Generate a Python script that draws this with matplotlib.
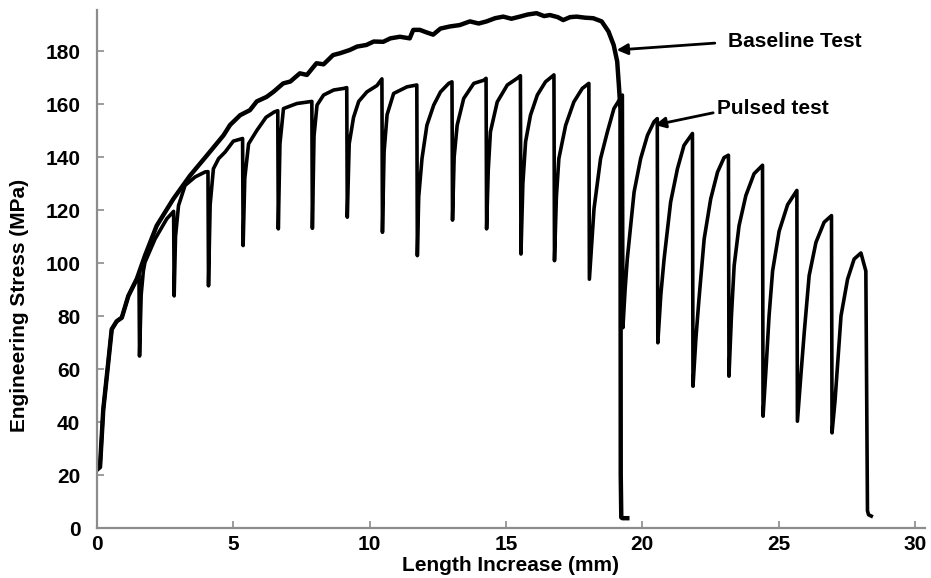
import matplotlib
matplotlib.use("Agg")
import matplotlib.pyplot as plt

# stress-strain readings taken off the original figure (mm, MPa)
baseline_x = [0.0, 0.11, 0.23, 0.36, 0.54, 0.72, 0.91, 1.15, 1.46, 1.76, 2.19, 2.8, 3.42,
              4.03, 4.64, 4.88, 5.25, 5.61, 5.86, 6.22, 6.47, 6.83, 7.09, 7.44, 7.7, 8.05,
              8.31, 8.66, 8.92, 9.27, 9.54, 9.88, 10.15, 10.5, 10.76, 11.11, 11.47, 11.6,
              11.84, 12.1, 12.33, 12.6, 12.95, 13.3, 13.68, 14.0, 14.29, 14.6, 14.9, 15.2,
              15.51, 15.8, 16.12, 16.4, 16.61, 16.9, 17.1, 17.35, 17.59, 17.9, 18.2, 18.51,
              18.76, 18.95, 19.08, 19.14, 19.2, 19.21, 19.23, 19.27, 19.45]
baseline_y = [22, 23, 44.7, 57.3, 75, 78, 79.4, 87.6, 94, 102.8, 114.1, 124.2, 133.1,
              140.6, 148.2, 152.1, 155.8, 157.7, 161, 162.7, 164.6, 167.8, 168.5, 171.6, 171, 175.4,
              175, 178.5, 179.2, 180.4, 181.7, 182.3, 183.6, 183.5, 184.8, 185.4, 184.8, 188,
              188, 187, 186.2, 188.5, 189.3, 189.8, 191.2, 190.4, 191.2, 192.4, 193, 192.2,
              193, 193.8, 194.3, 193.2, 193.6, 192.8, 191.7, 192.8, 193, 192.6, 192.4, 191.2,
              187.4, 182.3, 176.1, 167.3, 158, 20, 4, 3.7, 3.7]

pulsed_x = [0.0, 0.11, 0.23, 0.36, 0.54, 0.72, 0.91, 1.15, 1.46, 1.54,
            1.56, 1.62, 1.7, 1.76, 2.13, 2.56, 2.81,
            2.83, 2.88, 2.99, 3.23, 3.6, 3.97, 4.07,
            4.09, 4.15, 4.27, 4.46, 4.7, 5.0, 5.34,
            5.36, 5.42, 5.56, 5.86, 6.2, 6.5, 6.63,
            6.65, 6.71, 6.84, 7.33, 7.88,
            7.9, 7.96, 8.07, 8.31, 8.68, 9.05, 9.16,
            9.18, 9.25, 9.41, 9.6, 9.9, 10.27, 10.45,
            10.47, 10.53, 10.64, 10.88, 11.37, 11.73,
            11.75, 11.8, 11.92, 12.1, 12.35, 12.6, 12.9, 13.02,
            13.04, 13.1, 13.21, 13.45, 13.82, 14.19, 14.27,
            14.29, 14.35, 14.43, 14.68, 15.05, 15.41, 15.53,
            15.55, 15.62, 15.72, 15.9, 16.15, 16.45, 16.76,
            16.78, 16.85, 16.94, 17.19, 17.49, 17.8, 18.04,
            18.06, 18.13, 18.23, 18.47, 18.72, 18.96, 19.27,
            19.29, 19.37, 19.45, 19.7, 19.94, 20.19, 20.43, 20.55,
            20.57, 20.68, 20.8, 21.04, 21.29, 21.53, 21.84,
            21.86, 21.97, 22.08, 22.27, 22.51, 22.76, 23.0, 23.16,
            23.18, 23.27, 23.37, 23.55, 23.8, 24.1, 24.41,
            24.43, 24.55, 24.65, 24.78, 25.02, 25.33, 25.67,
            25.69, 25.82, 25.94, 26.12, 26.37, 26.67, 26.94,
            26.96, 27.07, 27.16, 27.29, 27.53, 27.77, 28.02, 28.2,
            28.26, 28.3, 28.4]
pulsed_y = [22, 23, 44.7, 57.3, 75, 78, 79.4, 87.6, 94, 95.5,
            64.9, 88, 97, 100.3, 109.1, 116.7, 119.5,
            87.6, 110, 121.7, 129.3, 132.5, 134.4, 134.5,
            91.4, 122, 135.6, 139.4, 141.9, 146, 147,
            106.6, 132, 145, 150, 155, 157, 157.5,
            112.9, 145, 158.3, 160.2, 161,
            113.1, 148, 159.6, 163.4, 165.3, 165.9, 166.2,
            117.3, 145, 155, 161, 164.6, 167, 169.5,
            111.6, 142, 156, 164, 166.5, 167.2,
            102.8, 125, 139.4, 152, 159.6, 164.6, 167.8, 168.4,
            116.2, 140, 152, 162.1, 167.8, 169, 169.7,
            112.9, 135, 149.5, 160.8, 167.2, 169.7, 170.7,
            103.4, 130, 145.8, 155.8, 163.4, 168.4, 171,
            100.9, 125, 139.4, 152, 160.8, 165.9, 167.8,
            93.9, 105, 120.5, 139.4, 149.5, 158.3, 163.4,
            75.6, 90, 101.5, 126.8, 139.4, 148.2, 153.3, 154.5,
            69.9, 88, 101.5, 123, 135.6, 144.4, 148.9,
            53.5, 72, 86.4, 109.1, 124.2, 134.3, 139.8, 140.7,
            57.3, 80, 99, 114.1, 125.5, 133.7, 136.9,
            42.2, 62, 80, 97, 112, 122, 127.4,
            40.3, 58, 73.7, 95.2, 107.8, 115.4, 117.9,
            35.9, 48, 61.2, 80.1, 93.9, 101.5, 103.8, 97,
            6.5, 5, 4.5]

x_ticks = [0, 5, 10, 15, 20, 25, 30]
y_ticks = [0, 20, 40, 60, 80, 100, 120, 140, 160, 180]

plt.rcParams['font.family'] = ['Liberation Sans', 'DejaVu Sans']
plt.rcParams['font.weight'] = 'bold'

fig = plt.figure(figsize=(9.31, 5.78), dpi=100)
ax = fig.add_axes([97 / 931, 50 / 578, 828 / 931, 518 / 578])

ax.plot(baseline_x, baseline_y, color='black', lw=3.2, solid_joinstyle='round')
ax.plot(pulsed_x, pulsed_y, color='black', lw=2.6, solid_joinstyle='round')

ax.set_xlim(0, 30.37)
ax.set_ylim(0, 195.5)
ax.set_xticks(x_ticks)
ax.set_yticks(y_ticks)

for side in ['top', 'right']:
    ax.spines[side].set_visible(False)
for side in ['left', 'bottom']:
    ax.spines[side].set_color('#8c8c8c')
    ax.spines[side].set_linewidth(1.6)

ax.tick_params(axis='both', direction='in', length=5, width=1.2, color='#8c8c8c',
               labelsize=15)
ax.tick_params(axis='y', pad=12)
ax.tick_params(axis='x', pad=5)
for lab in ax.get_xticklabels() + ax.get_yticklabels():
    lab.set_fontweight('bold')

ax.set_xlabel('Length Increase (mm)', fontsize=15, fontweight='bold')
ax.set_ylabel('Engineering Stress (MPa)', fontsize=15, fontweight='bold')
ax.xaxis.set_label_coords(0.5, -0.054)
ax.yaxis.set_label_coords(-0.082, 0.43)

arrow = dict(arrowstyle='-|>', color='black', lw=2, mutation_scale=16,
             shrinkA=0, shrinkB=0)
ax.annotate('', xy=(19.06, 180.4), xytext=(22.66, 183), arrowprops=arrow)
ax.text(23.14, 183.8, 'Baseline Test', fontsize=15, fontweight='bold',
        ha='left', va='center')
ax.annotate('', xy=(20.46, 152.1), xytext=(22.6, 156.7), arrowprops=arrow)
ax.text(22.75, 158.5, 'Pulsed test', fontsize=15, fontweight='bold',
        ha='left', va='center')

fig.savefig('out.png', dpi=100)
